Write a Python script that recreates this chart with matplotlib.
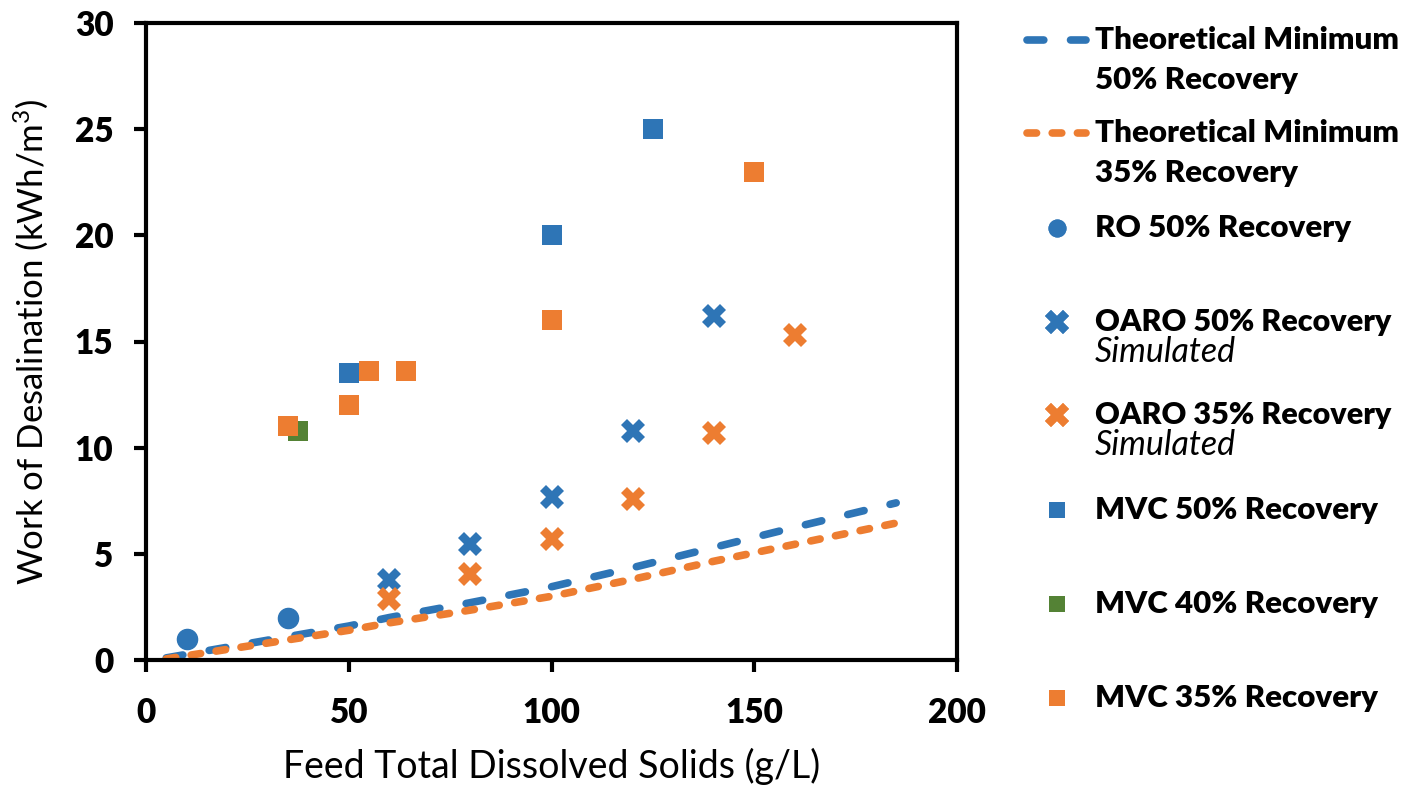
import matplotlib
matplotlib.use("Agg")
import matplotlib.pyplot as plt
from matplotlib.lines import Line2D

plt.rcParams["font.family"] = ["Lato", "DejaVu Sans"]
plt.rcParams["mathtext.default"] = "regular"

BLUE = "#2E75B6"
ORANGE = "#ED7D31"
GREEN = "#548235"

# theoretical minimum curves
tds_theory = [5, 20, 35, 50, 60, 80, 100, 120, 140, 160, 185]
min_50 = [0.1, 0.6, 1.1, 1.6, 2.0, 2.7, 3.45, 4.35, 5.3, 6.25, 7.4]
min_35 = [0.05, 0.5, 0.95, 1.4, 1.75, 2.35, 3.0, 3.8, 4.65, 5.45, 6.45]

ro_tds = [10, 35]
ro_50 = [1.0, 2.0]

oaro_tds_50 = [60, 80, 100, 120, 140]
oaro_50 = [3.75, 5.45, 7.7, 10.8, 16.2]
oaro_tds_35 = [60, 80, 100, 120, 140, 160]
oaro_35 = [2.85, 4.05, 5.7, 7.6, 10.7, 15.3]

mvc_tds_50 = [50, 100, 125]
mvc_50 = [13.5, 20.0, 25.0]
mvc_tds_40 = [37.5]
mvc_40 = [10.8]
mvc_tds_35 = [35, 50, 55, 64, 100, 150]
mvc_35 = [11.0, 12.0, 13.6, 13.6, 16.0, 23.0]

W, H = 1403, 787
fig = plt.figure(figsize=(W / 100, H / 100), dpi=100)
ax = fig.add_axes([146 / W, 1 - 660 / H, (957 - 146) / W, (660 - 23) / H])

blue_dash = dict(color=BLUE, lw=5.5, dashes=(2.2, 3.5), dash_capstyle="round")
orange_dash = dict(color=ORANGE, lw=5.5, dashes=(1.25, 2.05), dash_capstyle="round")

ax.plot(tds_theory, min_50, **blue_dash, zorder=2)
ax.plot(tds_theory, min_35, **orange_dash, zorder=2)
ax.plot(ro_tds, ro_50, "o", color=BLUE, ms=14.5, zorder=3)
ax.plot(oaro_tds_50, oaro_50, "X", color=BLUE, ms=17, mew=0, zorder=3)
ax.plot(oaro_tds_35, oaro_35, "X", color=ORANGE, ms=17, mew=0, zorder=3)
ax.plot(mvc_tds_40, mvc_40, "s", color=GREEN, ms=15, mew=0, zorder=3)
ax.plot(mvc_tds_50, mvc_50, "s", color=BLUE, ms=15, mew=0, zorder=3)
ax.plot(mvc_tds_35, mvc_35, "s", color=ORANGE, ms=15, mew=0, zorder=3)

ax.set_xlim(0, 200)
ax.set_ylim(0, 30)
ax.set_xticks([0, 50, 100, 150, 200])
ax.set_yticks([0, 5, 10, 15, 20, 25, 30])
for s in ax.spines.values():
    s.set_linewidth(3)
ax.tick_params(direction="out", length=8.5, width=3, pad=15, labelsize=24)
ax.tick_params(axis="x", pad=18)
for lab in ax.get_xticklabels() + ax.get_yticklabels():
    lab.set_fontweight("heavy")
ax.set_xlabel("Feed Total Dissolved Solids (g/L)", fontsize=27, labelpad=14)
ax.set_ylabel("Work of Desalination (kWh/m$^3$)", fontsize=25, labelpad=18)


def fx(px):
    return px / W


def fy(py):
    return 1 - py / H


# legend drawn by hand
def add_handle(x0, x1, y, **kw):
    fig.add_artist(Line2D([fx(x0), fx(x1)], [fy(y), fy(y)], transform=fig.transFigure, **kw))


add_handle(1023 + 4, 1090 - 4, 40, **blue_dash)
add_handle(1023 + 4, 1090 - 4, 133, **orange_dash)
add_handle(1057, 1057, 228, marker="o", color=BLUE, ms=12, ls="none")
add_handle(1057, 1057, 322, marker="X", color=BLUE, ms=17, mew=0, ls="none")
add_handle(1057, 1057, 415, marker="X", color=ORANGE, ms=17, mew=0, ls="none")
add_handle(1057, 1057, 510, marker="s", color=BLUE, ms=12, mew=0, ls="none")
add_handle(1057, 1057, 604, marker="s", color=GREEN, ms=12, mew=0, ls="none")
add_handle(1057, 1057, 698, marker="s", color=ORANGE, ms=12, mew=0, ls="none")

legend_lines = [
    (40, "Theoretical Minimum", "heavy", "normal", 22.5),
    (80, "50% Recovery", "heavy", "normal", 22.5),
    (133, "Theoretical Minimum", "heavy", "normal", 22.5),
    (173, "35% Recovery", "heavy", "normal", 22.5),
    (228, "RO 50% Recovery", "heavy", "normal", 22.5),
    (322, "OARO 50% Recovery", "heavy", "normal", 22),
    (352, "Simulated", "normal", "italic", 24.5),
    (415, "OARO 35% Recovery", "heavy", "normal", 22),
    (445, "Simulated", "normal", "italic", 24.5),
    (510, "MVC 50% Recovery", "heavy", "normal", 22.5),
    (604, "MVC 40% Recovery", "heavy", "normal", 22.5),
    (698, "MVC 35% Recovery", "heavy", "normal", 22.5),
]
for y, txt, wt, st, size in legend_lines:
    fig.text(fx(1095), fy(y), txt, fontsize=size, fontweight=wt, fontstyle=st,
             ha="left", va="center")

fig.savefig("out.png", dpi=100)
